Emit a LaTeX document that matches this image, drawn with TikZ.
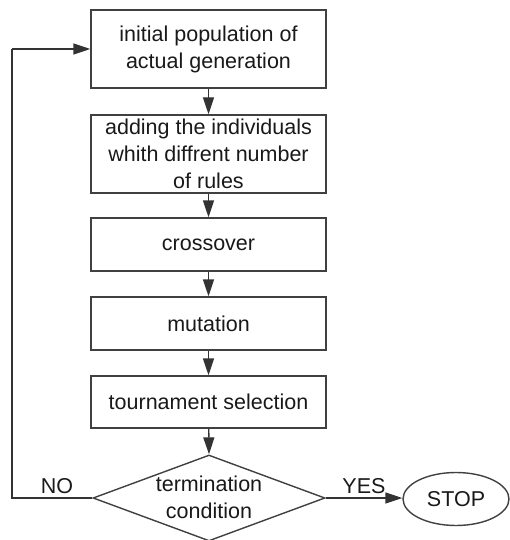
\documentclass[tikz,border=0pt]{standalone}
\usepackage{fontspec}
\setmainfont{Liberation Sans}
\usetikzlibrary{shapes.geometric,arrows.meta}
\begin{document}
\begin{tikzpicture}[x=1pt,y=-1pt,
  every node/.style={font=\fontsize{21.5}{27}\selectfont, text=black!90},
  procbox/.style={draw=black!75, line width=1.4pt, minimum width=235pt, align=center, inner sep=0pt},
  conn/.style={draw=black!80, line width=1.4pt, -{Triangle[length=17pt,width=11pt]}},
  plain/.style={draw=black!80, line width=1.4pt}]
\useasboundingbox (0,0) rectangle (510,540);
\node[procbox, minimum height=78pt] (b1) at (208.5,49) {initial population of\\actual generation};
\node[procbox, minimum height=78pt] (b2) at (208.5,154) {adding the individuals\\whith diffrent number\\of rules};
\node[procbox, minimum height=53pt] (b3) at (208.5,244.5) {crossover};
\node[procbox, minimum height=53pt] (b4) at (208.5,323.5) {mutation};
\node[procbox, minimum height=52pt] (b5) at (208.5,402) {tournament selection};
\node[diamond, draw=black!75, line width=1.4pt, minimum width=232pt, minimum height=86pt, inner sep=0pt] (d) at (209,498) {};
\node[align=center] (dt) at (209,497) {termination\\condition};
\node[ellipse, draw=black!75, line width=1.4pt, minimum width=106pt, minimum height=53pt, inner sep=0pt] (stop) at (456,499) {STOP};
\coordinate (c1) at (12,498);
\coordinate (c2) at (12,49);
\draw[conn] (b1) -- (b2);
\draw[conn] (b2) -- (b3);
\draw[conn] (b3) -- (b4);
\draw[conn] (b4) -- (b5);
\draw[conn] (b5) -- (d.north);
\draw[conn] (d.east) -- (stop.west |- d.east);
\draw[plain] (d.west) -- (c1) -- (c2);
\draw[conn] (c2) -- (b1.west);
\node (no) at (57,486) {NO};
\node (yes) at (364,486) {YES};
\end{tikzpicture}
\end{document}
